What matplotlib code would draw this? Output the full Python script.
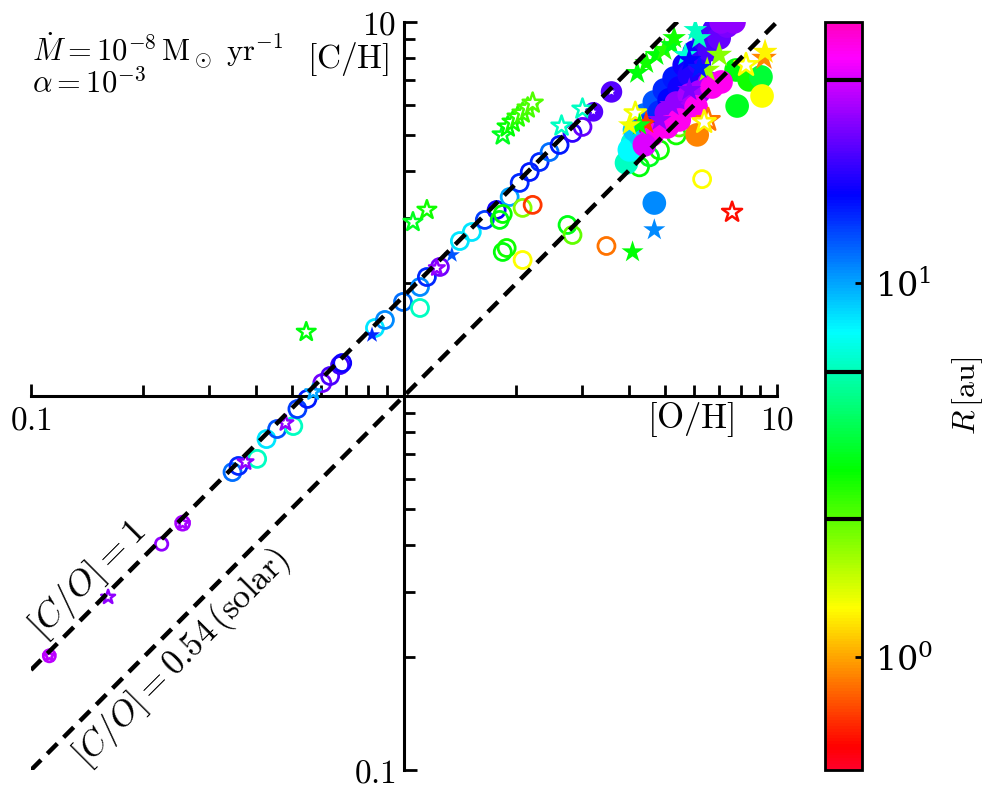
import matplotlib
matplotlib.use("Agg")
import matplotlib.pyplot as plt
import numpy as np
from matplotlib.colors import LogNorm
from matplotlib.ticker import FixedLocator, NullLocator, LogLocator, NullFormatter

plt.rcParams["mathtext.fontset"] = "cm"
plt.rcParams["font.family"] = ["DejaVu Serif"]

# [O/H], [C/H] (solar-normalised), R [au], marker size
oc_x = [0.112, 0.224, 0.255, 0.347, 0.360, 0.404, 0.428, 0.457, 0.505, 0.518, 0.551,
        0.604, 0.634, 0.674, 0.683, 0.836, 0.889, 0.994, 1.104, 1.104, 1.152, 1.248,
        1.412, 1.520, 1.647, 1.772, 1.920, 2.043, 2.173, 2.310, 2.457, 2.613, 2.830,
        3.010, 1.806, 1.840, 2.080, 2.213, 1.840, 1.885, 2.080, 2.745, 2.830, 3.49,
        6.30, 4.28, 4.55, 4.84, 5.37, 5.47]
oc_y = [0.202, 0.402, 0.457, 0.626, 0.650, 0.679, 0.767, 0.816, 0.831, 0.923, 0.982,
        1.083, 1.131, 1.210, 1.225, 1.520, 1.597, 1.784, 1.719, 1.956, 2.080, 2.213,
        2.596, 2.744, 2.956, 3.143, 3.404, 3.713, 3.971, 4.223, 4.490, 4.690, 5.05,
        5.24, 2.956, 3.066, 3.183, 3.243, 2.427, 2.487, 2.310, 2.866, 2.694, 2.518,
        3.80, 4.10, 4.36, 4.55, 4.99, 5.24]
oc_r = [32, 28, 30, 12, 15, 6, 8, 13, 6, 14, 16,
        25, 22, 21, 18, 8, 11, 12, 6, 11, 15, 25,
        8, 8, 14, 18, 10, 15, 16, 15, 12, 16, 20,
        24, 3.4, 3.1, 2.0, 0.7, 3.3, 3.0, 1.35, 3.4, 2.3, 0.85,
        1.35, 3.3, 3.5, 3.0, 3.0, 2.3]
oc_s = [75, 80, 100] + [150] * 42 + [170] * 5

os_x = [0.112, 0.161, 0.255, 0.376, 0.481, 0.571, 0.547, 1.057, 1.152, 1.225, 2.645,
        3.01, 3.22, 3.60, 1.840, 1.897, 1.956, 2.017, 2.080, 2.146, 2.213,
        7.58, 6.54, 6.38, 8.26, 4.17]
os_y = [0.202, 0.290, 0.457, 0.666, 0.847, 1.025, 1.483, 2.918, 3.143, 2.199, 5.27,
        5.85, 5.75, 6.50, 4.99, 5.24, 5.40, 5.57, 5.71, 5.89, 6.07,
        3.10, 5.47, 5.40, 7.67, 5.71]
os_r = [32, 28, 30, 28, 28, 10, 3.3, 3.5, 3.0, 28, 6,
        6, 23, 23, 3.5, 3.2, 3.0, 2.8, 2.6, 2.5, 2.4,
        0.6, 0.85, 1.3, 1.35, 1.4]
os_s = [80, 110, 110, 140, 140, 140, 200, 200, 200, 140, 230,
        230, 110, 130] + [230] * 7 + [230, 300, 300, 300, 260]

fc_x = [3.22, 3.60, 4.69, 6.11, 7.77, 8.42, 9.06, 7.82, 9.12, 3.95, 4.10, 4.28,
        4.02, 4.28, 4.49,
        4.15, 4.41, 4.69, 4.99, 5.30, 5.64, 6.00, 6.38, 6.78,
        4.55, 4.84, 5.14, 5.47, 5.82, 6.19, 6.58, 7.00, 7.35,
        7.08, 7.67, 5.05, 5.37, 5.82, 6.19, 6.58,
        4.63, 5.08, 5.47, 6.07, 6.70, 7.08, 4.41]
fc_y = [5.75, 6.50, 3.28, 4.99, 7.44, 7.00, 7.13, 5.96, 6.34, 4.20, 4.75, 4.84,
        4.55, 4.99, 5.30,
        5.14, 5.64, 6.11, 6.58, 7.08, 7.67, 8.31, 8.95, 9.52,
        5.30, 5.74, 6.19, 6.66, 7.21, 7.77, 8.42, 9.06, 9.75,
        10.0, 10.0, 5.71, 6.07, 6.38, 6.50, 6.87,
        4.99, 5.24, 5.47, 5.93, 6.70, 6.91, 4.69]
fc_r = [23, 23, 11, 0.9, 3.3, 3.0, 3.8, 3.5, 1.35, 6, 6.5, 7,
        7.5, 8.5, 10,
        9, 12, 13, 15, 16, 18, 18, 20, 22,
        14, 15, 17, 18, 19, 20, 22, 24, 26,
        28, 28, 28, 28, 30, 30, 30,
        42, 42, 42, 42, 42, 42, 36]
fc_s = [200, 240] + [290] * 45

fs_x = [0.821, 1.344, 4.10, 4.69, 4.22, 4.46, 4.75, 4.99, 5.21, 5.30,
        6.19, 5.68, 6.04, 7.00, 6.50, 9.23, 9.29, 4.46,
        5.21, 5.82, 4.84, 5.82, 6.19, 4.28, 4.02]
fs_y = [1.456, 2.383, 2.427, 2.78, 7.31, 7.77, 8.16, 8.42, 8.68, 9.06,
        9.06, 8.16, 9.52, 8.16, 7.44, 8.01, 8.31, 5.37,
        6.00, 6.58, 5.47, 7.91, 7.54, 5.30, 5.30]
fs_r = [15, 13, 3.2, 11, 3.3, 3.0, 3.2, 2.8, 3.4, 3.0,
        6, 6.5, 6, 2.0, 1.9, 0.9, 1.3, 0.7,
        28, 26, 28, 17, 16, 3.3, 1.4]
fs_s = [150, 150, 280, 280] + [320] * 9 + [380] * 4 + [330] * 6 + [300, 300]

ice_lines = [2.35, 5.8, 35]
solar_co = 0.54

cmap = plt.get_cmap("gist_rainbow")
norm = LogNorm(vmin=0.5, vmax=50)

fig = plt.figure(figsize=(9.96, 7.95), dpi=100)
ax = fig.add_axes([0.0311, 0.0314, 0.749, 0.941])
cax = fig.add_axes([0.828, 0.0314, 0.037, 0.941])

ax.scatter(oc_x, oc_y, s=oc_s, facecolors="none", edgecolors=cmap(norm(oc_r)),
           linewidths=2, zorder=2)
ax.scatter(fc_x, fc_y, s=fc_s, c=fc_r, cmap=cmap, norm=norm, edgecolors="none", zorder=3)
ax.scatter(os_x, os_y, s=os_s, marker="*", facecolors="white",
           edgecolors=cmap(norm(os_r)), linewidths=1.8, zorder=4)
sc = ax.scatter(fs_x, fs_y, s=fs_s, marker="*", c=fs_r, cmap=cmap, norm=norm,
                edgecolors="none", zorder=4)

xx = np.array([0.1, 10])
ax.plot(xx, xx / solar_co, color="k", lw=3.2, ls=(0, (3.2, 2)), zorder=5)
ax.plot(xx, xx, color="k", lw=3.2, ls=(0, (3.2, 2)), zorder=5)

ax.set_xscale("log")
ax.set_yscale("log")
ax.set_xlim(0.1, 10)
ax.set_ylim(0.1, 10)

for side in ["top", "right"]:
    ax.spines[side].set_visible(False)
ax.spines["left"].set_position(("data", 1))
ax.spines["bottom"].set_position(("data", 1))
ax.spines["left"].set_linewidth(2.2)
ax.spines["bottom"].set_linewidth(2.2)

for axis in [ax.xaxis, ax.yaxis]:
    axis.set_major_locator(FixedLocator([0.1, 1, 10]))
    axis.set_minor_locator(LogLocator(base=10, subs=np.arange(2, 10)))
    axis.set_minor_formatter(NullFormatter())
ax.set_xticklabels(["$0.1$", "", "$10$"])
ax.set_yticklabels(["$0.1$", "", "$10$"])
ax.tick_params(which="both", direction="in", width=2, labelsize=24, pad=6)
ax.tick_params(which="major", length=9)
ax.tick_params(which="minor", length=8)

ax.text(0.885, 0.468, r"$[\mathrm{O/H}]$", transform=ax.transAxes,
        fontsize=25, ha="center", va="center")
ax.text(0.425, 0.950, r"$[\mathrm{C/H}]$", transform=ax.transAxes,
        fontsize=24, ha="center", va="center")
ax.text(0.002, 0.962, r"$\dot{M} = 10^{-8}\,\mathrm{M_\odot\ yr^{-1}}$",
        transform=ax.transAxes, fontsize=22, ha="left", va="center")
ax.text(0.002, 0.918, r"$\alpha = 10^{-3}$",
        transform=ax.transAxes, fontsize=22, ha="left", va="center")
ax.text(0.076, 0.254, r"$[C/O] = 1$", transform=ax.transAxes, fontsize=26,
        rotation=45, ha="center", va="center", rotation_mode="anchor")
ax.text(0.202, 0.150, r"$[C/O] = 0.54\,(\mathrm{solar})$", transform=ax.transAxes,
        fontsize=25, rotation=45, ha="center", va="center", rotation_mode="anchor")

cb = fig.colorbar(sc, cax=cax)
cb.outline.set_linewidth(2)
for r in ice_lines:
    cax.axhline(r, color="k", lw=3)
cax.yaxis.set_minor_locator(NullLocator())
cax.tick_params(which="major", direction="in", length=5, width=2, labelsize=24, pad=10)
cb.set_label(r"$R\,[\mathrm{au}]$", fontsize=23, labelpad=12)

fig.savefig("out.png", dpi=100)
